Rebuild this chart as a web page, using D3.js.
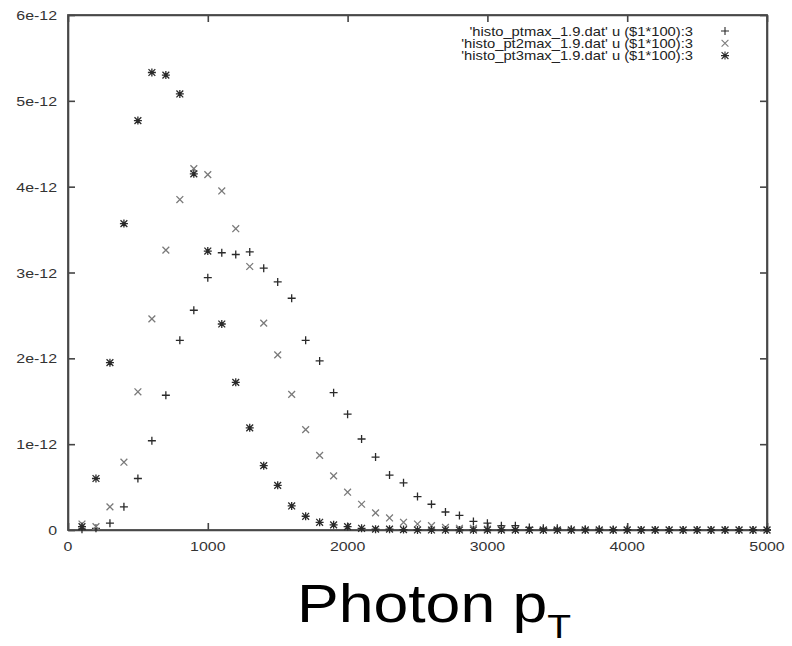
<!doctype html>
<html>
<head>
<meta charset="UTF-8">
<title>Photon pT</title>
<script src="https://cdn.jsdelivr.net/npm/d3@7"></script>
<style>
  body { margin: 0; background: #fff; }
  text { font-family: "Liberation Sans", Arial, sans-serif; fill: #333; }
</style>
</head>
<body>
<svg id="chart" width="792" height="646"></svg>
<script>
// x positions (photon pT, $1*100)
var ptValues = [100,200,300,400,500,600,700,800,900,1000,
  1100,1200,1300,1400,1500,1600,1700,1800,1900,2000,
  2100,2200,2300,2400,2500,2600,2700,2800,2900,3000,
  3100,3200,3300,3400,3500,3600,3700,3800,3900,4000,
  4100,4200,4300,4400,4500,4600,4700,4800,4900,5000];

// column 3, in units of 1e-12
var ptmax = [0.01,0.02,0.08,0.27,0.60,1.04,1.57,2.21,2.56,2.94,
  3.23,3.21,3.24,3.05,2.89,2.70,2.21,1.97,1.60,1.35,
  1.06,0.85,0.64,0.55,0.39,0.30,0.21,0.17,0.10,0.08,
  0.05,0.05,0.03,0.02,0.02,0.01,0.01,0.01,0.005,0.005,
  0,0,0,0,0,0,0,0,0,0];
var pt2max = [0.07,0.04,0.27,0.79,1.61,2.46,3.26,3.85,4.21,4.14,
  3.95,3.51,3.07,2.41,2.04,1.58,1.17,0.87,0.63,0.44,
  0.30,0.20,0.14,0.09,0.07,0.05,0.03,0.02,0.02,0.01,
  0.01,0.005,0,0,0,0,0,0,0,0,
  0,0,0,0,0,0,0,0,0,0];
var pt3max = [0.04,0.60,1.95,3.57,4.77,5.33,5.30,5.08,4.15,3.25,
  2.40,1.72,1.19,0.75,0.52,0.28,0.16,0.09,0.06,0.04,
  0.02,0.01,0.01,0.005,0,0,0,0,0,0,
  0,0,0,0,0,0,0,0,0,0,
  0,0,0,0,0,0,0,0,0,0];

var xTicks = [0,1000,2000,3000,4000,5000];
var yTicks = [0,1,2,3,4,5,6];
var legendLabels = [
  "'histo_ptmax_1.9.dat' u ($1*100):3",
  "'histo_pt2max_1.9.dat' u ($1*100):3",
  "'histo_pt3max_1.9.dat' u ($1*100):3"
];

var svg = d3.select("#chart"),
    plotL = 68, plotR = 767, plotT = 15, plotB = 530,
    stretch = 1.18; // the picture is a bit wider than tall

var x = d3.scaleLinear().domain([0, 5000]).range([plotL, plotR]),
    y = d3.scaleLinear().domain([0, 6]).range([plotB, plotT]);

// marker shapes, gnuplot point types 1,2,3
var r = 4;
function plus(cx, cy) { return "M" + (cx - r) + "," + cy + "H" + (cx + r) + "M" + cx + "," + (cy - r) + "V" + (cy + r); }
function cross(cx, cy) { var q = r * 0.85; return "M" + (cx - q) + "," + (cy - q) + "L" + (cx + q) + "," + (cy + q) + "M" + (cx - q) + "," + (cy + q) + "L" + (cx + q) + "," + (cy - q); }
function star(cx, cy) { return plus(cx, cy) + cross(cx, cy); }

var series = [
  {name: legendLabels[0], values: ptmax, shape: plus, color: "#2a2a2a"},
  {name: legendLabels[1], values: pt2max, shape: cross, color: "#7a7a7a"},
  {name: legendLabels[2], values: pt3max, shape: star, color: "#2a2a2a"}
];

// stretched text helper
function label(g, tx, ty, str, size, anchor) {
  return g.append("text")
    .attr("transform", "translate(" + tx + "," + ty + ") scale(" + stretch + ",1)")
    .attr("font-size", size)
    .attr("text-anchor", anchor)
    .text(str);
}

// axes (gnuplot style, inward ticks mirrored)
var axisB = d3.axisBottom(x).tickValues(xTicks).tickSizeInner(-7).tickSizeOuter(0).tickFormat("");
var axisT = d3.axisTop(x).tickValues(xTicks).tickSizeInner(-7).tickSizeOuter(0).tickFormat("");
var axisL = d3.axisLeft(y).tickValues(yTicks).tickSizeInner(-7).tickSizeOuter(0).tickFormat("");
var axisR = d3.axisRight(y).tickValues(yTicks).tickSizeInner(-7).tickSizeOuter(0).tickFormat("");

svg.append("g").attr("transform", "translate(0," + plotB + ")").call(axisB);
svg.append("g").attr("transform", "translate(0," + plotT + ")").call(axisT);
svg.append("g").attr("transform", "translate(" + plotL + ",0)").call(axisL);
svg.append("g").attr("transform", "translate(" + plotR + ",0)").call(axisR);
svg.selectAll(".domain, .tick line").attr("stroke", "#444").attr("stroke-width", 1.6);

svg.append("rect")
  .attr("x", plotL).attr("y", plotT)
  .attr("width", plotR - plotL).attr("height", plotB - plotT)
  .attr("fill", "none").attr("stroke", "#4a4a4a").attr("stroke-width", 1.8);

// tick labels
var tl = svg.append("g");
xTicks.forEach(function(t) { label(tl, x(t), plotB + 21, String(t), 13.5, "middle"); });
yTicks.forEach(function(t) { label(tl, plotL - 11, y(t) + 5, t === 0 ? "0" : t + "e-12", 13.5, "end"); });

// points
var pts = svg.append("g");
series.forEach(function(s) {
  pts.selectAll(null)
    .data(s.values)
    .enter().append("path")
    .attr("d", function(v, i) { return s.shape(x(ptValues[i]), y(v)); })
    .attr("stroke", s.color)
    .attr("stroke-width", 1.3)
    .attr("fill", "none");
});

// legend
var lg = svg.append("g");
series.forEach(function(s, i) {
  var ly = 31 + i * 12.3;
  label(lg, 693, ly + 4.5, s.name, 12.5, "end").style("fill", "#222");
  lg.append("path").attr("d", s.shape(725, ly)).attr("stroke", s.color).attr("stroke-width", 1.1).attr("fill", "none");
});

// axis title
var title = svg.append("text")
  .attr("transform", "translate(297,622) scale(" + stretch + ",1)")
  .attr("font-size", 53)
  .style("fill", "#000");
title.append("tspan").text("Photon p");
title.append("tspan").attr("font-size", 33).attr("dy", 16).text("T");
</script>
</body>
</html>
